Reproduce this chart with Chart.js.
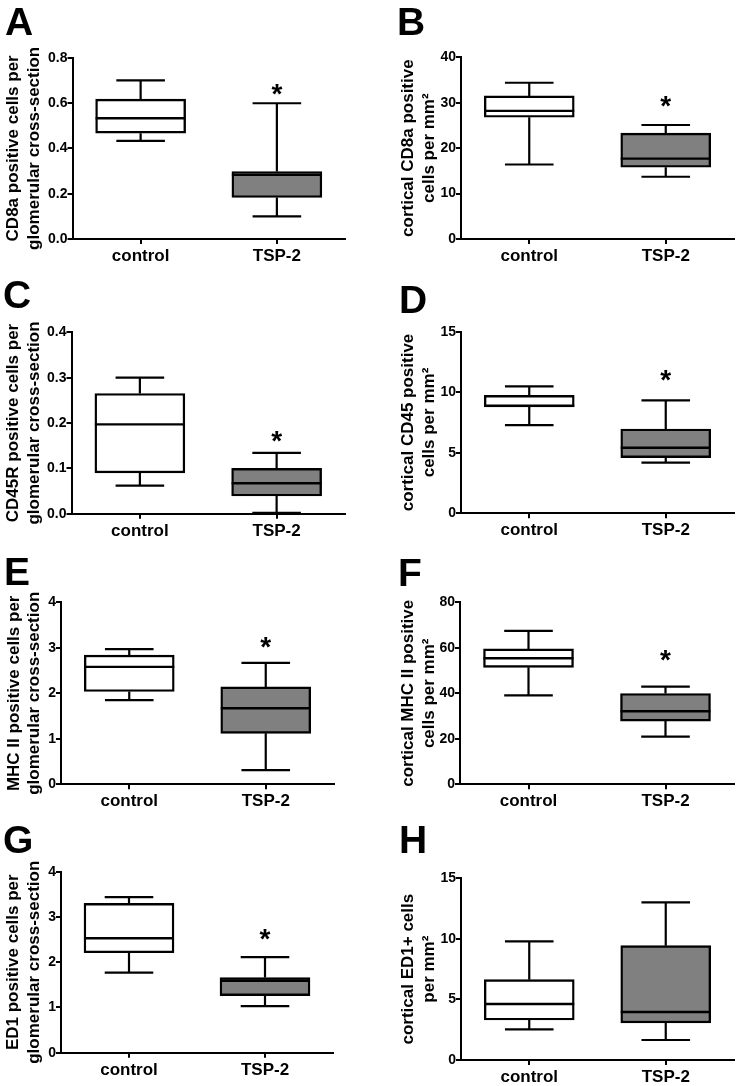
<!DOCTYPE html>
<html>
<head>
<meta charset="utf-8">
<script src="https://cdn.jsdelivr.net/npm/chart.js@4.4.0/dist/chart.umd.min.js"></script>
<style>
body { margin: 0; background: #fff; width: 739px; height: 1086px; position: relative; overflow: hidden; font-family: 'Liberation Sans', Arial, sans-serif; }
.panel { position: absolute; }
.letter { position: absolute; font-weight: bold; font-size: 39px; line-height: 1; color: #000; }
</style>
</head>
<body>
<script>
// Box plot data (control, TSP-2 for each panel A-H)
const groups = ['control', 'TSP-2'];
const panelLetters = ['A', 'B', 'C', 'D', 'E', 'F', 'G', 'H'];
const yTitles = [
    ['CD8a positive cells per', 'glomerular cross-section'],
    ['cortical CD8a positive', 'cells per mm²'],
    ['CD45R positive cells per', 'glomerular cross-section'],
    ['cortical CD45 positive', 'cells per mm²'],
    ['MHC II positive cells per', 'glomerular cross-section'],
    ['cortical MHC II positive', 'cells per mm²'],
    ['ED1 positive cells per', 'glomerular cross-section'],
    ['cortical ED1+ cells', 'per mm²']
];
const yMax = [0.8, 40, 0.4, 15, 4, 80, 4, 15];
const yStep = [0.2, 10, 0.1, 5, 1, 20, 1, 5];
const yDecimals = [1, 0, 1, 0, 0, 0, 0, 0];

const whiskerLow = [[0.433, 0.100], [16.4, 13.7], [0.062, 0.002], [7.29, 4.18], [1.85, 0.31], [39.1, 21.0], [1.77, 1.03], [2.53, 1.65]];
const quartile1 = [[0.467, 0.183], [26.8, 15.8], [0.090, 0.039], [8.78, 4.60], [2.04, 1.12], [51.4, 27.8], [2.21, 1.26], [3.30, 3.06]];
const medians = [[0.533, 0.283], [28.2, 17.7], [0.197, 0.067], [8.89, 5.42], [2.58, 1.67], [55.4, 32.1], [2.53, 1.59], [4.62, 3.96]];
const quartile3 = [[0.617, 0.298], [31.5, 23.3], [0.265, 0.100], [9.74, 6.96], [2.84, 2.14], [59.5, 39.9], [3.30, 1.66], [6.63, 9.44]];
const whiskerHigh = [[0.700, 0.599], [34.4, 25.1], [0.300, 0.134], [10.49, 9.33], [2.97, 2.67], [67.4, 42.9], [3.44, 2.11], [9.80, 13.02]];
const starValue = [0.669, 30.8, 0.175, 11.6, 3.17, 57.6, 2.66, null];

const boxColors = ['#ffffff', '#808080'];
const FONT = "'Liberation Sans', Arial, sans-serif";

// canvas box of each panel and where its plot area sits inside it
const frames = [
    { x: 0,   y: 0,   w: 370, h: 270, left: 72.5, top: 57.7, bottom: 239,   right: 345, lh: 1.22, tc: 13.3, lx: 5,   ly: 2 },
    { x: 370, y: 0,   w: 369, h: 270, left: 91,   top: 57.3, bottom: 239,   right: 364, lh: 1.25, tc: 38.5, lx: 397, ly: 2 },
    { x: 0,   y: 270, w: 370, h: 270, left: 71.5, top: 62.3, bottom: 243.7, right: 345, lh: 1.22, tc: 13.3, lx: 3,   ly: 275 },
    { x: 370, y: 270, w: 369, h: 270, left: 91,   top: 61.7, bottom: 243.3, right: 364, lh: 1.25, tc: 38.5, lx: 399, ly: 280 },
    { x: 0,   y: 540, w: 370, h: 270, left: 61,   top: 62.3, bottom: 244.3, right: 334, lh: 1.22, tc: 14,   lx: 4,   ly: 552 },
    { x: 370, y: 540, w: 369, h: 270, left: 90,   top: 62.3, bottom: 244.3, right: 364, lh: 1.25, tc: 38.5, lx: 398, ly: 553 },
    { x: 0,   y: 810, w: 370, h: 276, left: 61,   top: 61.7, bottom: 242.7, right: 333, lh: 1.22, tc: 13.5, lx: 3,   ly: 820 },
    { x: 370, y: 810, w: 369, h: 276, left: 91,   top: 68.3, bottom: 250,   right: 364, lh: 1.25, tc: 38.5, lx: 399, ly: 820 }
];

// whiskers, caps, median line and the significance star
const boxWhiskers = {
    id: 'boxWhiskers',
    afterDatasetsDraw(chart, args, opts) {
        const p = opts.panel;
        const ctx = chart.ctx;
        const y = chart.scales.y;
        const meta = chart.getDatasetMeta(0);
        ctx.save();
        ctx.strokeStyle = '#000';
        meta.data.forEach((bar, i) => {
            const { x, width } = bar.getProps(['x', 'width'], true);
            const half = width / 2;
            const cap = width * 0.27;
            const yLo = y.getPixelForValue(whiskerLow[p][i]);
            const yQ1 = y.getPixelForValue(quartile1[p][i]);
            const yMed = y.getPixelForValue(medians[p][i]);
            const yQ3 = y.getPixelForValue(quartile3[p][i]);
            const yHi = y.getPixelForValue(whiskerHigh[p][i]);
            ctx.lineWidth = 2.2;
            ctx.beginPath();
            ctx.moveTo(x, yQ3); ctx.lineTo(x, yHi);
            ctx.moveTo(x - cap, yHi); ctx.lineTo(x + cap, yHi);
            ctx.moveTo(x, yQ1); ctx.lineTo(x, yLo);
            ctx.moveTo(x - cap, yLo); ctx.lineTo(x + cap, yLo);
            ctx.stroke();
            ctx.lineWidth = 2.4;
            ctx.beginPath();
            ctx.moveTo(x - half, yMed); ctx.lineTo(x + half, yMed);
            ctx.stroke();
        });
        if (starValue[p] !== null) {
            const bar = meta.data[1];
            ctx.fillStyle = '#000';
            ctx.font = 'bold 28px ' + FONT;
            ctx.textAlign = 'center';
            ctx.textBaseline = 'alphabetic';
            ctx.fillText('*', bar.x, y.getPixelForValue(starValue[p]) + 0.57 * 28);
        }
        ctx.restore();
    }
};

function drawPanel(p) {
    const f = frames[p];
    const wrap = document.createElement('div');
    wrap.className = 'panel';
    wrap.style.left = f.x + 'px';
    wrap.style.top = f.y + 'px';
    const canvas = document.createElement('canvas');
    canvas.width = f.w;
    canvas.height = f.h;
    wrap.appendChild(canvas);
    document.body.appendChild(wrap);

    const letter = document.createElement('div');
    letter.className = 'letter';
    letter.style.left = f.lx + 'px';
    letter.style.top = f.ly + 'px';
    letter.textContent = panelLetters[p];
    document.body.appendChild(letter);

    const padLeft = f.tc - f.lh * 17 / 2;
    const xAxisHeight = 30;

    new Chart(canvas, {
        type: 'bar',
        data: {
            labels: groups,
            datasets: [{
                data: groups.map((g, i) => [quartile1[p][i], quartile3[p][i]]),
                backgroundColor: boxColors,
                borderColor: '#000',
                borderWidth: 2.4,
                borderSkipped: false,
                barThickness: 90
            }]
        },
        options: {
            responsive: false,
            animation: false,
            layout: {
                padding: { left: padLeft, top: f.top, right: f.w - f.right, bottom: f.h - f.bottom - xAxisHeight }
            },
            plugins: {
                legend: { display: false },
                tooltip: { enabled: false },
                boxWhiskers: { panel: p }
            },
            scales: {
                x: {
                    offset: true,
                    grid: { drawOnChartArea: false, offset: false, tickLength: 5, color: '#000', lineWidth: 2 },
                    border: { color: '#000', width: 2 },
                    ticks: { color: '#000', padding: 2, font: { family: FONT, size: 17, weight: 'bold' } },
                    afterFit: s => { s.height = xAxisHeight; }
                },
                y: {
                    min: 0,
                    max: yMax[p],
                    ticks: {
                        stepSize: yStep[p],
                        color: '#000',
                        padding: 0,
                        font: { family: FONT, size: 14, weight: 'bold' },
                        callback: v => Number(v).toFixed(yDecimals[p])
                    },
                    grid: { drawOnChartArea: false, tickLength: 5, color: '#000', lineWidth: 2 },
                    border: { color: '#000', width: 2 },
                    title: {
                        display: true,
                        text: yTitles[p],
                        color: '#000',
                        padding: 0,
                        font: { family: FONT, size: 17, weight: 'bold', lineHeight: f.lh }
                    },
                    afterFit: s => { s.width = f.left - padLeft; }
                }
            }
        },
        plugins: [boxWhiskers]
    });
}

for (let p = 0; p < panelLetters.length; p++) {
    drawPanel(p);
}
</script>
</body>
</html>
